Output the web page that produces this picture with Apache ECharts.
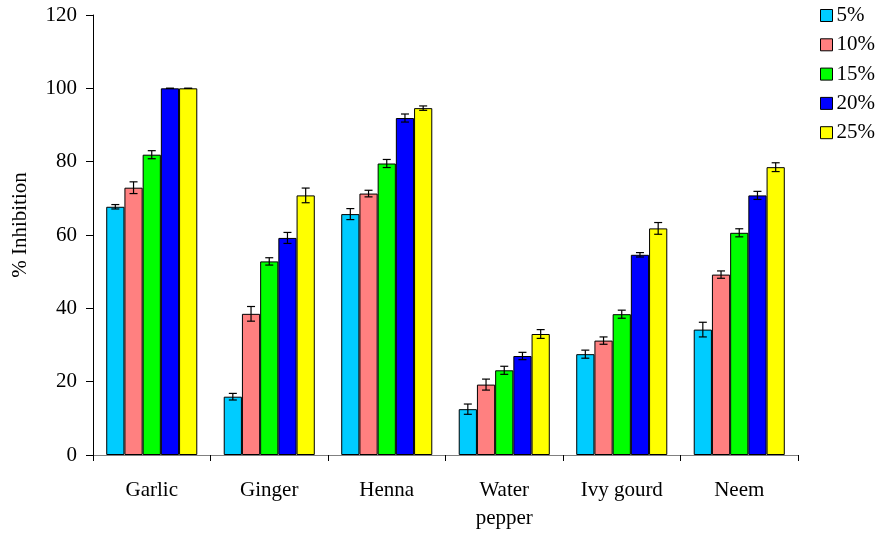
<!DOCTYPE html>
<html>
<head>
<meta charset="utf-8">
<script src="https://cdn.jsdelivr.net/npm/echarts@6/dist/echarts.min.js"></script>
<style>html,body{margin:0;padding:0;background:#fff}#c{width:882px;height:534px}</style>
</head>
<body>
<div id="c"></div>
<script>
const categories = ['Garlic', 'Ginger', 'Henna', 'Water\npepper', 'Ivy gourd', 'Neem'];
const seriesNames = ['5%', '10%', '15%', '20%', '25%'];
const colors = ['#00CCFF', '#FF8080', '#00FF00', '#0000FF', '#FFFF00'];
const v5  = [67.7, 15.9, 65.7, 12.5, 27.5, 34.2];
const v10 = [72.9, 38.5, 71.3, 19.2, 31.2, 49.2];
const v15 = [81.9, 52.8, 79.5, 23.1, 38.4, 60.6];
const v20 = [100, 59.2, 91.9, 27.0, 54.6, 70.8];
const v25 = [100, 70.8, 94.6, 33.0, 61.8, 78.5];
const e5  = [0.6, 0.9, 1.5, 1.4, 1.1, 2.0];
const e10 = [1.6, 2.0, 0.9, 1.5, 1.0, 1.0];
const e15 = [1.1, 1.0, 1.1, 1.1, 1.1, 1.1];
const e20 = [0, 1.5, 1.1, 1.0, 0.6, 1.1];
const e25 = [0, 2.0, 0.6, 1.2, 1.6, 1.2];
const yTicks = [0, 20, 40, 60, 80, 100, 120];
const yTitle = '% Inhibition';

const values = [v5, v10, v15, v20, v25];
const errors = [e5, e10, e15, e20, e25];
const FONT = 'Liberation Serif';
const FS = 21;
const GAP = 0.225;

const chart = echarts.init(document.getElementById('c'));
const series = [];
seriesNames.forEach((n, i) => {
  series.push({
    name: n, type: 'bar', data: values[i],
    barGap: '0%', barCategoryGap: (GAP * 100) + '%',
    itemStyle: { color: colors[i], borderColor: '#000', borderWidth: 1 },
    emphasis: { disabled: true }
  });
});
seriesNames.forEach((n, i) => {
  series.push({
    name: 'err' + n, type: 'custom', z: 10,
    data: values[i].map((v, k) => [k, v, errors[i][k]]),
    renderItem: function (params, api) {
      const k = api.value(0), v = api.value(1), e = api.value(2);
      const band = api.size([1, 0])[0];
      const area = band * (1 - GAP);
      const bw = area / 5;
      const c = api.coord([k, v]);
      const x = c[0] - area / 2 + bw * (i + 0.5);
      const yHi = api.coord([k, v + e])[1];
      const yLo = api.coord([k, v - e])[1];
      const cap = 4;
      const st = { stroke: '#000', lineWidth: 1.2 };
      return { type: 'group', children: [
        { type: 'line', shape: { x1: x, y1: yHi, x2: x, y2: yLo }, style: st },
        { type: 'line', shape: { x1: x - cap, y1: yHi, x2: x + cap, y2: yHi }, style: st },
        { type: 'line', shape: { x1: x - cap, y1: yLo, x2: x + cap, y2: yLo }, style: st }
      ]};
    }
  });
});

chart.setOption({
  animation: false,
  backgroundColor: '#fff',
  grid: { left: 93, right: 84, top: 15, bottom: 79, containLabel: false, outerBoundsMode: 'none' },
  legend: {
    data: seriesNames, orient: 'vertical', left: 820, top: 5, padding: 0,
    itemWidth: 12, itemHeight: 12, itemGap: 8.3, icon: 'rect',
    itemStyle: { borderColor: '#000', borderWidth: 1 },
    textStyle: { fontFamily: FONT, fontSize: FS, color: '#000', lineHeight: 20, padding: [0, 0, 0, -1] }
  },
  graphic: [{
    type: 'text', x: 20, y: 225, rotation: Math.PI / 2,
    style: { text: yTitle, fontFamily: FONT, fontSize: FS, fill: '#000', align: 'center', verticalAlign: 'middle' }
  }],
  xAxis: {
    type: 'category', data: categories,
    axisLine: { lineStyle: { color: '#808080', width: 1 } },
    axisTick: { show: true, length: 6, lineStyle: { color: '#000' } },
    axisLabel: { fontFamily: FONT, fontSize: FS, color: '#000', margin: 21, lineHeight: 28 }
  },
  yAxis: {
    type: 'value', min: 0, max: 120, interval: 20,
    splitLine: { show: false },
    axisLine: { show: true, lineStyle: { color: '#000', width: 1 } },
    axisTick: { show: true, length: 7, lineStyle: { color: '#000' } },
    axisLabel: { fontFamily: FONT, fontSize: FS, color: '#000', margin: 16,
      formatter: v => yTicks.includes(v) ? String(v) : '' }
  },
  series: series
});
</script>
</body>
</html>
